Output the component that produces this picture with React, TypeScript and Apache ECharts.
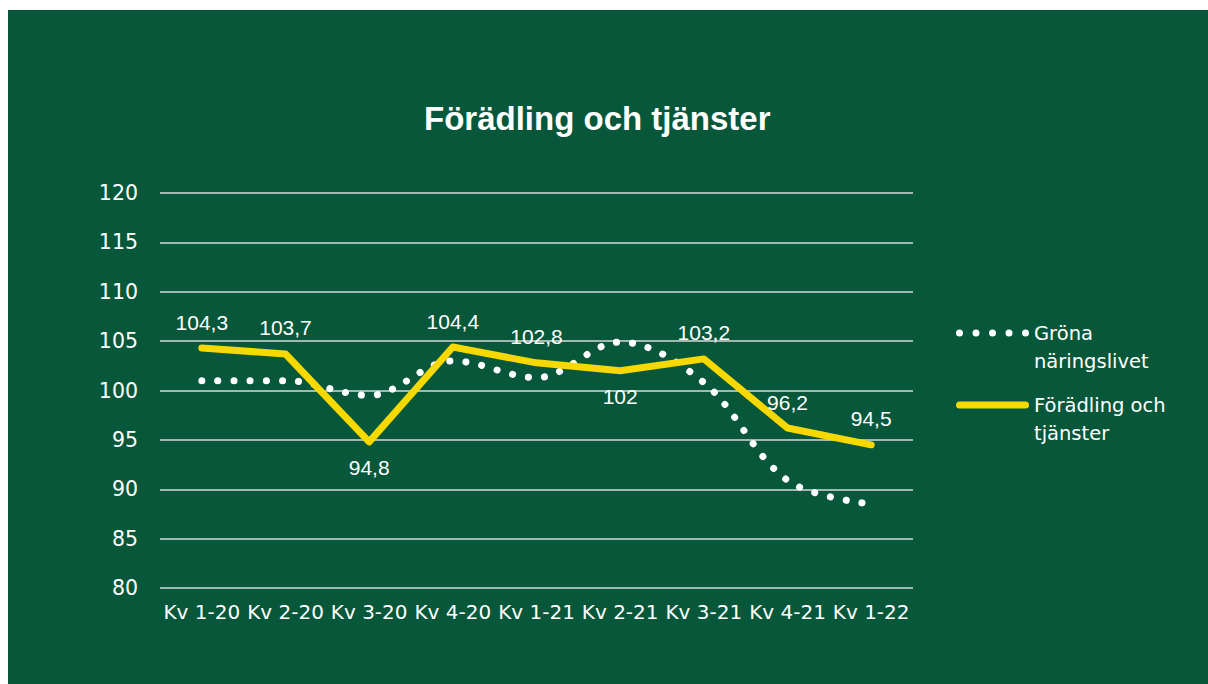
import React, { useEffect, useRef } from "react";
import * as echarts from "echarts";

const categories = ["Kv 1-20", "Kv 2-20", "Kv 3-20", "Kv 4-20", "Kv 1-21", "Kv 2-21", "Kv 3-21", "Kv 4-21", "Kv 1-22"];
const gronaNaringslivet = [101.0, 101.0, 99.5, 103.0, 101.3, 104.9, 100.8, 90.9, 88.5];
const foradlingTjanster = [104.3, 103.7, 94.8, 104.4, 102.8, 102.0, 103.2, 96.2, 94.5];
const labelsBelow = [2, 5];
const seriesNames = ["Gröna näringslivet", "Förädling och tjänster"];
const legendLabels: Record<string, string> = {
  "Gröna näringslivet": " \nGröna\nnäringslivet",
  "Förädling och tjänster": " \nFörädling och\ntjänster",
};

const BG = "#07573A";
const YELLOW = "#F7D900";
const FONT = "DejaVu Sans";
const LFONT = "Liberation Sans";

const DOTS_ICON =
  "path://" +
  [3.5, 20, 36.5, 53, 69.5]
    .map((cx) => `M${cx - 3.5},3.5a3.5,3.5 0 1,0 7,0a3.5,3.5 0 1,0 -7,0z`)
    .join("");
const BAR_ICON = "path://M3.5,0L69.5,0A3.5,3.5 0 0,1 69.5,7L3.5,7A3.5,3.5 0 0,1 3.5,0z";

export default function App() {
  const ref = useRef<HTMLDivElement>(null);
  useEffect(() => {
    if (!ref.current) return;
    document.body.style.overflow = "hidden";
    const chart = echarts.init(ref.current, null, { renderer: "svg" });
    chart.setOption({
      animation: false,
      backgroundColor: BG,
      textStyle: { fontFamily: FONT },
      title: {
        text: "Förädling och tjänster",
        left: 411,
        top: 87,
        textStyle: { color: "#fff", fontSize: 33, fontWeight: "bold", fontFamily: LFONT },
      },
      grid: { left: 152, right: 295, top: 183, bottom: 96, containLabel: false },
      legend: {
        orient: "vertical",
        left: 948,
        top: 281,
        padding: 0,
        itemWidth: 73,
        itemHeight: 7,
        itemGap: -12,
        data: [
          { name: seriesNames[0], icon: DOTS_ICON, itemStyle: { color: "#fff" } },
          { name: seriesNames[1], icon: BAR_ICON, itemStyle: { color: YELLOW } },
        ],
        formatter: (n: string) => legendLabels[n] || n,
        textStyle: { color: "#fff", fontSize: 19.5, lineHeight: 28, fontFamily: FONT },
      },
      xAxis: {
        type: "category",
        data: categories,
        boundaryGap: true,
        axisLine: { show: false },
        axisTick: { show: false },
        axisLabel: { color: "#fff", fontSize: 20, margin: 14, fontFamily: FONT, interval: 0 },
      },
      yAxis: {
        type: "value",
        min: 80,
        max: 120,
        interval: 5,
        axisLine: { show: false },
        axisTick: { show: false },
        axisLabel: { color: "#fff", fontSize: 20.5, margin: 22, fontFamily: FONT },
        splitLine: { lineStyle: { color: "#D9D9D9", width: 1.5 } },
      },
      series: [
        {
          name: seriesNames[0],
          type: "line",
          data: gronaNaringslivet,
          smooth: 0.35,
          symbol: "none",
          z: 2,
          lineStyle: { color: "#fff", width: 7, type: [0.1, 16], cap: "round" },
          itemStyle: { color: "#fff" },
        },
        {
          name: seriesNames[1],
          type: "line",
          data: foradlingTjanster.map((v, i) => ({
            value: v,
            label: { position: labelsBelow.includes(i) ? "bottom" : "top" },
          })),
          symbol: "circle",
          symbolSize: 1,
          showSymbol: true,
          z: 3,
          lineStyle: { color: YELLOW, width: 7, cap: "round", join: "round" },
          itemStyle: { color: YELLOW },
          label: {
            show: true,
            color: "#fff",
            fontSize: 21,
            fontFamily: LFONT,
            distance: 15,
            formatter: (p: any) => String(p.value).replace(".", ","),
          },
        },
      ],
    });
    return () => chart.dispose();
  }, []);
  return (
    <div style={{ position: "absolute", left: 8, top: 10 }}>
      <div ref={ref} style={{ width: 1200, height: 674 }} />
    </div>
  );
}
